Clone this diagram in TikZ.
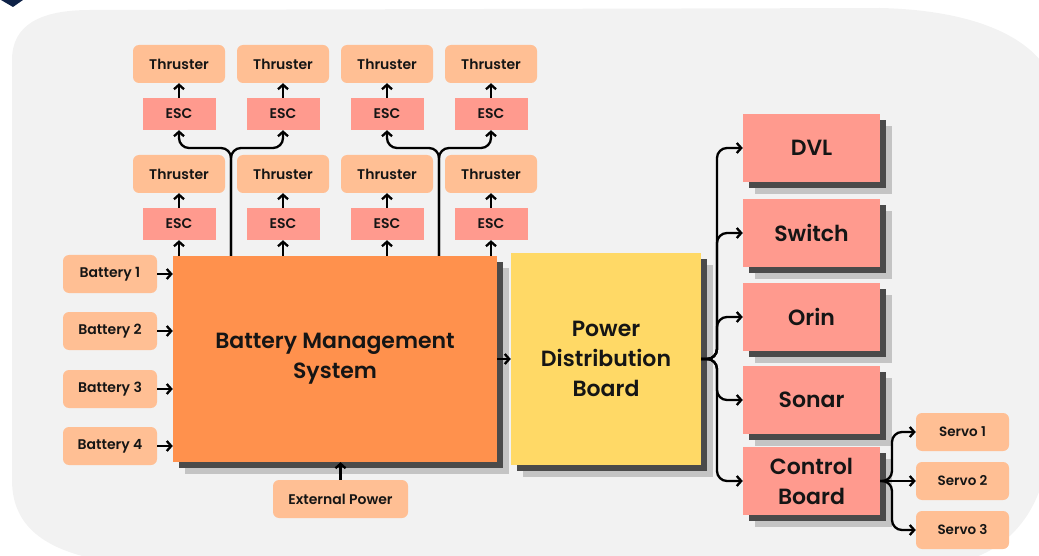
\documentclass[tikz,border=0pt]{standalone}
\usepackage{fontspec}
\setmainfont{Poppins}[UprightFont={* SemiBold}, BoldFont={* Bold}]
\usetikzlibrary{arrows.meta,shadows}

\definecolor{bg}{HTML}{F2F2F2}
\definecolor{peach}{HTML}{FFBF94}
\definecolor{salmon}{HTML}{FF9A8E}
\definecolor{bmsorange}{HTML}{FF914D}
\definecolor{pdbyellow}{HTML}{FFD966}
\definecolor{shdark}{HTML}{4A4A4A}
\definecolor{shlight}{HTML}{C4C4C4}
\definecolor{navy}{HTML}{0E2247}
\definecolor{ink}{HTML}{151515}

\begin{document}
\begin{tikzpicture}[x=1pt,y=-1pt,
  every node/.style={text=ink, inner sep=0pt, align=center},
  soft/.style={fill=peach, rounded corners=6pt, minimum width=92pt, minimum height=38pt,
    font=\fontsize{14}{16}\selectfont},
  escbox/.style={fill=salmon, minimum width=73pt, minimum height=32pt,
    font=\fontsize{14}{16}\selectfont},
  raised/.style={general shadow={fill=shlight, shadow xshift=12pt, shadow yshift=-12pt},
    general shadow={fill=shdark, shadow xshift=6pt, shadow yshift=-6pt}},
  bigfont/.style={font=\fontsize{22}{30}\selectfont},
  unit/.style={raised, fill=salmon, minimum width=137pt, minimum height=68pt, bigfont},
  link/.style={draw=black, line width=2.3pt, rounded corners=10pt,
    -{Straight Barb[length=4.5pt,width=10pt]}},
]
\useasboundingbox (0,0) rectangle (1039,556);

% backdrop panel and corner mark
\fill[bg] (12,60) .. controls (12,25) and (40,10) .. (90,10) -- (880,8)
  .. controls (970,10) and (1030,35) .. (1050,75) -- (1050,440)
  .. controls (1045,510) and (1010,550) .. (960,562) -- (110,562)
  .. controls (50,552) and (12,530) .. (12,480) -- cycle;
\fill[navy] (1,0) -- (23,0) -- (13,7) -- cycle;

% thrusters and their ESCs
\foreach \c [count=\i] in {179,283,387,491} {
  \node[soft] (ta\i) at (\c,64) {Thruster};
  \node[escbox] (ea\i) at (\c,114) {ESC};
  \node[soft] (tb\i) at (\c,174) {Thruster};
  \node[escbox] (eb\i) at (\c,224) {ESC};
}

% batteries
\foreach \y [count=\i] in {274,331,389,446}
  \node[soft, minimum width=94pt] (bat\i) at (110,\y) {Battery \i};

% main boards
\node[raised, fill=bmsorange, minimum width=324pt, minimum height=206pt, bigfont]
  (bms) at (335,359) {Battery Management\\System};
\node[raised, fill=pdbyellow, minimum width=190pt, minimum height=212pt, bigfont]
  (pdb) at (606,359) {Power\\Distribution\\Board};
\node[soft, minimum width=135pt] (ext) at (340.5,499) {External Power};

% powered units
\node[unit] (dvl) at (811.5,148) {DVL};
\node[unit] (sw) at (811.5,233) {Switch};
\node[unit] (orin) at (811.5,317) {Orin};
\node[unit] (sonar) at (811.5,400) {Sonar};
\node[unit] (ctrl) at (811.5,481) {Control\\Board};

% servos
\foreach \y [count=\i] in {432,481,530}
  \node[soft, minimum width=93pt, font=\fontsize{13.5}{16}\selectfont] (sv\i) at (962.5,\y) {Servo \i};

% connectors
\foreach \i in {1,...,4} {
  \draw[link] (ea\i.north) -- (ta\i.south);
  \draw[link] (eb\i.north) -- (tb\i.south);
  \draw[link] (eb\i.south |- bms.north) -- (eb\i.south);
  \draw[link] (bat\i.east) -- (bat\i.east -| bms.west);
}
\coordinate (fk1) at (231,148);
\coordinate (fk2) at (439,148);
\draw[link] (fk1 |- bms.north) -- (fk1) -| (ea1.south);
\draw[link] (fk1 |- bms.north) -- (fk1) -| (ea2.south);
\draw[link] (fk2 |- bms.north) -- (fk2) -| (ea3.south);
\draw[link] (fk2 |- bms.north) -- (fk2) -| (ea4.south);

\draw[link] (bms.east) -- (pdb.west);
\draw[link] (ext.north) -- (ext.north |- bms.south);

\coordinate (bus) at (717,359);
\foreach \t in {dvl,sw,orin,sonar,ctrl}
  \draw[link] (pdb.east) -- (bus) |- (\t.west);

\coordinate (sbus) at (892,481);
\draw[link] (ctrl.east) -- (sbus) |- (sv1.west);
\draw[link] (ctrl.east) -- (sv2.west);
\draw[link] (ctrl.east) -- (sbus) |- (sv3.west);
\end{tikzpicture}
\end{document}
